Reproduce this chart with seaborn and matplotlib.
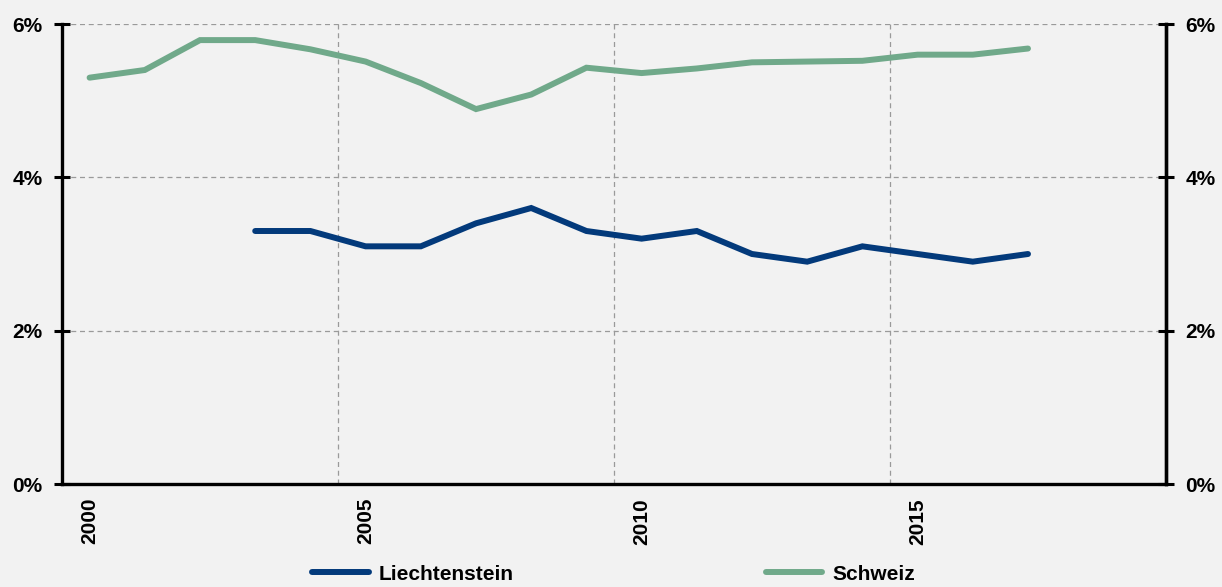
import numpy as np
import pandas as pd
import matplotlib
matplotlib.use("Agg")
import matplotlib.pyplot as plt
from matplotlib.ticker import FixedLocator, FuncFormatter
import seaborn as sns

years = list(range(2000, 2018))
schweiz = [5.30, 5.40, 5.79, 5.79, 5.67, 5.51, 5.23, 4.89, 5.08, 5.43, 5.36, 5.42, 5.50, 5.51, 5.52, 5.60, 5.60, 5.68]
liechtenstein = [np.nan, np.nan, np.nan, 3.3, 3.3, 3.1, 3.1, 3.4, 3.6, 3.3, 3.2, 3.3, 3.0, 2.9, 3.1, 3.0, 2.9, 3.0]
series_names = ["Liechtenstein", "Schweiz"]
series_colors = ["#033a7b", "#70a98a"]
year_labels = [2000, 2005, 2010, 2015]
y_ticks = [0, 2, 4, 6]

df = pd.DataFrame({
    "Jahr": years * 2,
    "Wert": liechtenstein + schweiz,
    "Land": [series_names[0]] * len(years) + [series_names[1]] * len(years),
}).dropna()

sns.set_style("white")
plt.rcParams["font.family"] = ["Liberation Sans", "DejaVu Sans"]
plt.rcParams["font.weight"] = "bold"
plt.rcParams["text.color"] = "black"
plt.rcParams["xtick.color"] = "black"
plt.rcParams["ytick.color"] = "black"
plt.rcParams["xtick.labelcolor"] = "black"
plt.rcParams["ytick.labelcolor"] = "black"

bg = "#f2f2f2"
lw = 4.3
fig = plt.figure(figsize=(12.22, 5.87), dpi=100, facecolor=bg)
ax = fig.add_axes([62 / 1222, 1 - 484 / 587, (1166 - 62) / 1222, (484 - 24) / 587])
ax.set_facecolor(bg)

sns.lineplot(data=df, x="Jahr", y="Wert", hue="Land", hue_order=series_names,
             palette=series_colors, linewidth=lw, ax=ax, legend=False)
for line in ax.lines:
    line.set_solid_capstyle("round")
    line.set_solid_joinstyle("miter")

ax.set_xlim(1999.5, 2019.5)
ax.set_ylim(0, 6)
ax.set_xlabel("")
ax.set_ylabel("")

# category boundaries carry the tick marks and grid; labels sit at category centres
ax.xaxis.set_major_locator(FixedLocator([1999.5, 2004.5, 2009.5, 2014.5, 2019.5]))
ax.xaxis.set_major_formatter(FuncFormatter(lambda v, p: ""))
ax.xaxis.set_minor_locator(FixedLocator(year_labels))
ax.xaxis.set_minor_formatter(FuncFormatter(lambda v, p: f"{int(round(v))}"))
ax.tick_params(axis="x", which="major", direction="inout", length=12, width=2.2, color="black")
ax.tick_params(axis="x", which="minor", length=0, labelsize=15, labelrotation=90, pad=10,
               labelcolor="black")
for lbl in ax.get_xticklabels(minor=True):
    lbl.set_fontweight("bold")

ax.set_yticks(y_ticks)
ax.yaxis.set_major_formatter(FuncFormatter(lambda v, p: f"{int(v)}%"))
ax.tick_params(axis="y", direction="inout", length=12, width=2.2, labelsize=15, pad=8,
               color="black", labelcolor="black")

ax.grid(True, which="major", axis="both", color="#9a9a9a", linestyle=(0, (4, 3)), linewidth=0.9)
ax.set_axisbelow(True)

for side in ["left", "bottom", "right"]:
    ax.spines[side].set_visible(True)
    ax.spines[side].set_color("black")
    ax.spines[side].set_linewidth(2.4)
ax.spines["top"].set_visible(False)

# mirrored percentage axis on the right
ax2 = ax.twinx()
ax2.set_ylim(0, 6)
ax2.set_yticks(y_ticks)
ax2.yaxis.set_major_formatter(FuncFormatter(lambda v, p: f"{int(v)}%"))
ax2.tick_params(axis="y", direction="inout", length=12, width=2.2, labelsize=15, pad=8,
                color="black", labelcolor="black")
for lbl in ax2.get_yticklabels():
    lbl.set_fontweight("bold")
for side in ["left", "top", "bottom"]:
    ax2.spines[side].set_visible(False)
ax2.spines["right"].set_color("black")
ax2.spines["right"].set_linewidth(2.4)
for lbl in ax.get_yticklabels():
    lbl.set_fontweight("bold")

handles = [plt.Line2D([], [], color=c, linewidth=lw, solid_capstyle="round") for c in series_colors]
fig.legend(handles, series_names, loc="center", bbox_to_anchor=(614 / 1222, 1 - 574 / 587),
           ncol=2, frameon=False, handlelength=2.7, handletextpad=0.5,
           columnspacing=12.1, prop={"weight": "bold", "size": 15})

fig.savefig("out.png", dpi=100, facecolor=bg)
